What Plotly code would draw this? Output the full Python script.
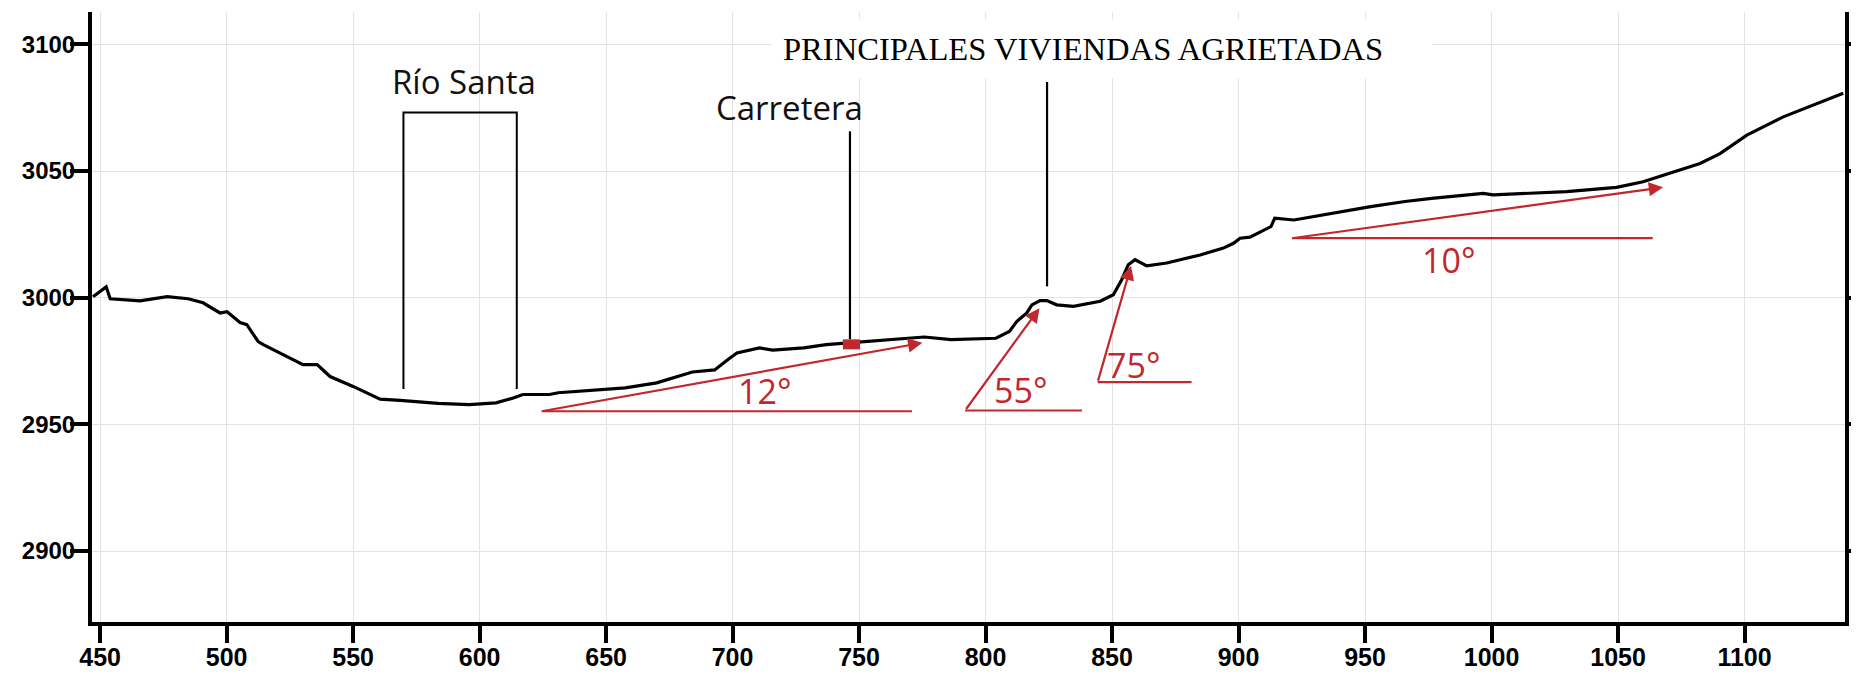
import plotly.graph_objects as go

# perfil topografico (distancia m, cota msnm)
profile_x = [447.2, 452.4, 454.0, 459.0, 465.8, 476.5, 484.8, 490.7, 497.4, 500.2,
             505.3, 508.0, 509.3, 512.5, 514.5, 522.4, 530.2, 535.8, 540.9, 550.0,
             560.7, 568.6, 583.6, 595.9, 606.5, 613.6, 617.1, 627.6, 631.1, 657.6,
             670.0, 684.1, 692.9, 698.2, 701.7, 710.6, 715.9, 728.1, 737.0, 745.8,
             763.5, 775.8, 786.4, 797.0, 804.1, 809.4, 812.4, 816.3, 818.3, 821.5,
             824.2, 828.1, 834.7, 845.3, 850.5, 853.8, 856.4, 859.1, 863.7, 871.6,
             884.8, 894.0, 898.0, 900.6, 904.5, 912.8, 914.3, 921.9, 937.0, 952.2,
             965.8, 976.3, 996.7, 1000.6, 1029.7, 1049.4, 1059.9, 1082.4, 1090.3, 1098.2,
             1100.9, 1115.3, 1139.0]
profile_y = [3000.4, 3004.3, 2999.6, 2999.2, 2998.8, 3000.4, 2999.6, 2998.0, 2994.0, 2994.5,
             2990.2, 2989.4, 2987.4, 2982.7, 2981.5, 2977.6, 2973.6, 2973.6, 2968.9, 2965.0,
             2960.0, 2959.5, 2958.3, 2957.8, 2958.5, 2960.5, 2961.8, 2961.8, 2962.5, 2964.4,
             2966.4, 2970.7, 2971.5, 2975.6, 2978.2, 2980.2, 2979.3, 2980.2, 2981.5, 2982.2,
             2983.5, 2984.5, 2983.5, 2983.7, 2984.0, 2986.7, 2990.7, 2994.0, 2997.2, 2998.9,
             2998.9, 2997.2, 2996.6, 2998.6, 3001.2, 3007.1, 3013.0, 3015.0, 3012.6, 3013.7,
             3016.9, 3019.6, 3021.5, 3023.5, 3023.9, 3028.1, 3031.4, 3030.7, 3033.3, 3036.0,
             3038.0, 3039.2, 3041.2, 3040.6, 3041.9, 3043.6, 3045.8, 3053.0, 3056.9, 3062.2,
             3064.2, 3071.4, 3080.7]

x_ticks = [450, 500, 550, 600, 650, 700, 750, 800, 850, 900, 950, 1000, 1050, 1100]
y_ticks = [2900, 2950, 3000, 3050, 3100]

# corchete del rio y lineas de referencia
rio_x = [569.9, 569.9, 614.7, 614.7]
rio_y = [2964.0, 3073.1, 3073.1, 2964.0]
carretera_x = [746.4, 746.4]
carretera_y = [3065.7, 2983.6]
carretera_mark_x = [743.6, 750.4]
carretera_mark_y = [2981.6, 2981.6]
viviendas_x = [824.3, 824.3]
viviendas_y = [3085.2, 3004.5]

# pendientes: base horizontal, flecha (cola -> punta), etiqueta
slope_labels = ["12°", "55°", "75°", "10°"]
base_x0 = [624.5, 791.9, 844.3, 921.1]
base_x1 = [770.9, 838.1, 881.4, 1063.7]
base_y = [2955.2, 2955.5, 2966.7, 3023.5]
arrow_tip_x = [775.0, 821.3, 857.5, 1067.8]
arrow_tip_y = [2982.2, 2995.9, 3012.6, 3043.6]
label_x = [712.7, 813.9, 858.5, 983.0]
label_y = [2963.0, 2963.4, 2973.4, 3014.9]

texts = ["Río Santa", "Carretera"]
texts_x = [593.9, 722.6]
texts_y = [3085.2, 3075.1]

title_text = "PRINCIPALES VIVIENDAS AGRIETADAS"
title_x = 712.7
title_y = 3098.0

RED = "#c1272d"

fig = go.Figure()
fig.add_trace(go.Scatter(x=profile_x, y=profile_y, mode="lines",
                         line={"color": "black", "width": 3.2}, hoverinfo="skip"))
fig.add_trace(go.Scatter(x=rio_x, y=rio_y, mode="lines",
                         line={"color": "black", "width": 2}, hoverinfo="skip"))
fig.add_trace(go.Scatter(x=carretera_x, y=carretera_y, mode="lines",
                         line={"color": "black", "width": 2.2}, hoverinfo="skip"))
fig.add_trace(go.Scatter(x=viviendas_x, y=viviendas_y, mode="lines",
                         line={"color": "black", "width": 2.2}, hoverinfo="skip"))
fig.add_trace(go.Scatter(x=carretera_mark_x, y=carretera_mark_y, mode="lines",
                         line={"color": RED, "width": 10}, hoverinfo="skip"))

for x0, x1, y0 in zip(base_x0, base_x1, base_y):
    fig.add_trace(go.Scatter(x=[x0, x1], y=[y0, y0], mode="lines",
                             line={"color": RED, "width": 2.2}, hoverinfo="skip"))

annotations = []
for x0, y0, xt, yt in zip(base_x0, base_y, arrow_tip_x, arrow_tip_y):
    annotations.append(dict(
        x=xt, y=yt, ax=x0, ay=y0, xref="x", yref="y", axref="x", ayref="y",
        text="", showarrow=True, arrowhead=2, arrowsize=1.3, arrowwidth=2.2,
        arrowcolor=RED,
    ))
for lab, lx, ly in zip(slope_labels, label_x, label_y):
    annotations.append(dict(
        x=lx, y=ly, xref="x", yref="y", text=lab, showarrow=False,
        font={"family": "Open Sans", "size": 34, "color": RED},
    ))
for t, tx, ty in zip(texts, texts_x, texts_y):
    annotations.append(dict(
        x=tx, y=ty, xref="x", yref="y", text=t, showarrow=False,
        font={"family": "Open Sans", "size": 33, "color": "#111111"},
    ))
annotations.append(dict(
    x=title_x, y=title_y, xref="x", yref="y", text=title_text, showarrow=False,
    xanchor="left", align="left", width=638, borderpad=11, bgcolor="white",
    xshift=6,
    font={"family": "Liberation Serif", "size": 32.6, "color": "black"},
))

# the page body keeps its default 8px margin, so the figure is 8px smaller
# than the window and the plot margins are shifted accordingly
fig.update_layout(
    width=1851,
    height=667,
    margin={"l": 84, "r": 14, "t": 4, "b": 53},
    plot_bgcolor="white",
    paper_bgcolor="white",
    showlegend=False,
    annotations=annotations,
)
fig.update_xaxes(
    range=[446.8, 1139.7],
    tickvals=x_ticks,
    automargin=False,
    ticks="outside", ticklen=17, tickwidth=4, tickcolor="black",
    ticklabelstandoff=-7,
    showline=True, linewidth=4, linecolor="black", mirror=False,
    showgrid=True, gridcolor="#e3e3e3", gridwidth=1, zeroline=False,
    tickfont={"family": "Liberation Sans", "size": 25, "color": "black", "weight": "bold"},
)
fig.update_yaxes(
    range=[2872.0, 3112.8],
    tickvals=y_ticks,
    automargin=False,
    ticks="outside", ticklen=18, tickwidth=4, tickcolor="black",
    ticklabelstandoff=-10,
    showline=True, linewidth=4, linecolor="black", mirror="ticks",
    showgrid=True, gridcolor="#e3e3e3", gridwidth=1, zeroline=False,
    tickfont={"family": "Liberation Sans", "size": 24, "color": "black", "weight": "bold"},
)

fig.write_html("out.html")
